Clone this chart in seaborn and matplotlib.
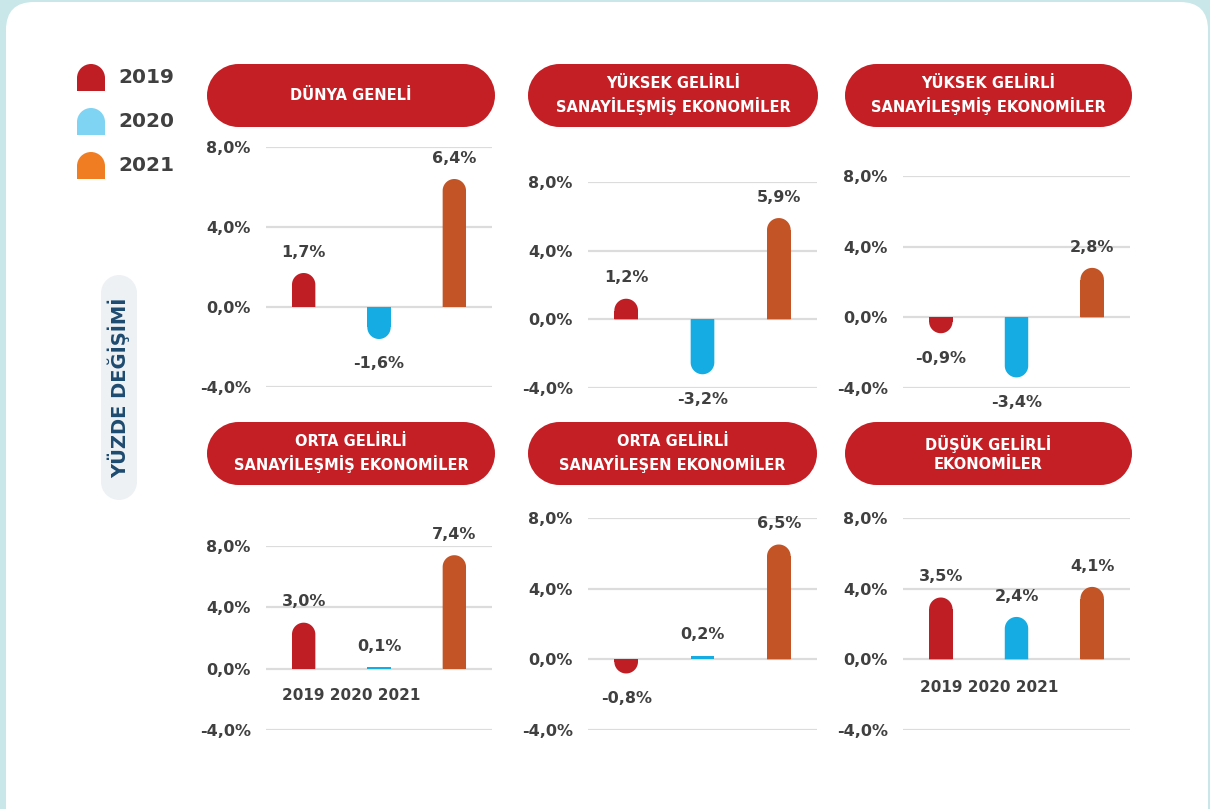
import numpy as np
import pandas as pd
import matplotlib.pyplot as plt
import seaborn as sns
from matplotlib.patches import FancyBboxPatch, Polygon, Wedge, Rectangle, Circle

sns.set_theme(style="white")
plt.rcParams['font.family'] = ['DejaVu Sans']

# ---- data ----
years = ["2019", "2020", "2021"]
titles = ["DÜNYA GENELİ",
          "YÜKSEK GELİRLİ\nSANAYİLEŞMİŞ EKONOMİLER",
          "YÜKSEK GELİRLİ\nSANAYİLEŞMİŞ EKONOMİLER",
          "ORTA GELİRLİ\nSANAYİLEŞMİŞ EKONOMİLER",
          "ORTA GELİRLİ\nSANAYİLEŞEN EKONOMİLER",
          "DÜŞÜK GELİRLİ\nEKONOMİLER"]
v2019 = [1.7, 1.2, -0.9, 3.0, -0.8, 3.5]
v2020 = [-1.6, -3.2, -3.4, 0.1, 0.2, 2.4]
v2021 = [6.4, 5.9, 2.8, 7.4, 6.5, 4.1]
yticks = [-4, 0, 4, 8]
ylabel = "YÜZDE DEĞİŞİMİ"
year_label_panels = [3, 5]

# ---- styling / layout (pixels) ----
W, H = 1210, 809
bar_colors = {"2019": "#BE1E24", "2020": "#14ACE2", "2021": "#C25426"}
legend_colors = {"2019": "#BE1E24", "2020": "#7FD3F3", "2021": "#F07D22"}
header_red = "#C41F25"
txt = "#404040"

# axes boxes: left, right, y of 8%, y of -4%
boxes = [(266, 492, 147, 387), (588, 817, 182, 388), (903, 1130, 176, 388),
         (266, 492, 546, 730), (588, 817, 518, 730), (903, 1130, 518, 730)]
headers = [(207, 495, 64, 127), (528, 818, 64, 127), (845, 1132, 64, 127),
           (207, 495, 422, 485), (528, 817, 422, 485), (845, 1132, 422, 485)]
year_label_pos = {3: (351, 695), 5: (989, 687)}

fig = plt.figure(figsize=(12.1, 8.09), dpi=100, facecolor='#C9E7E8')

# background overlay in pixel coordinates
bg = fig.add_axes([0, 0, 1, 1])
bg.set_xlim(0, W)
bg.set_ylim(0, H)
bg.axis('off')
bg.add_patch(FancyBboxPatch((6, -60), 1202, H - 2 + 60,
                            boxstyle="round,pad=0,rounding_size=28",
                            fc='white', ec='none'))


def pill(x0, x1, ytop, ybot, color):
    # rectangle with semicircular ends
    w, h = x1 - x0, ybot - ytop
    yb = H - ybot
    if w >= h:
        r = h / 2
        bg.add_patch(Rectangle((x0 + r, yb), w - 2 * r, h, fc=color, ec='none'))
        bg.add_patch(Circle((x0 + r, yb + r), r, fc=color, ec='none'))
        bg.add_patch(Circle((x1 - r, yb + r), r, fc=color, ec='none'))
    else:
        r = w / 2
        bg.add_patch(Rectangle((x0, yb + r), w, h - 2 * r, fc=color, ec='none'))
        bg.add_patch(Circle((x0 + r, yb + r), r, fc=color, ec='none'))
        bg.add_patch(Circle((x0 + r, yb + h - r), r, fc=color, ec='none'))


# y label pill
pill(101, 137, 275, 500, '#EEF1F4')
bg.text(119, H - 388, ylabel, rotation=90, ha='center', va='center',
        fontsize=14, fontweight='bold', color='#1D4B6F')

# legend with rounded-top markers
for i, yr in enumerate(years):
    ytop = 64 + i * 44
    w, h = 28, 27
    r = w / 2
    bg.add_patch(Rectangle((77, H - ytop - h), w, h - r + 0.5, fc=legend_colors[yr], ec='none'))
    bg.add_patch(Wedge((77 + r, H - ytop - r), r, 0, 180, fc=legend_colors[yr], ec='none'))
    bg.text(118, H - ytop - h / 2, yr, ha='left', va='center',
            fontsize=14.5, fontweight='bold', color=txt)

# headers
for (x0, x1, yt, yb), t in zip(headers, titles):
    pill(x0, x1, yt, yb, header_red)
    bg.text((x0 + x1) / 2, H - (yt + yb) / 2, t, ha='center', va='center',
            fontsize=10.5, fontweight='bold', color='white', linespacing=1.35)


def fmt(v):
    return f"{v:.1f}%".replace('.', ',')


for k, (l, r_, y8, ym4) in enumerate(boxes):
    ax = fig.add_axes([l / W, 1 - ym4 / H, (r_ - l) / W, (ym4 - y8) / H])
    ax.patch.set_alpha(0)
    vals = [v2019[k], v2020[k], v2021[k]]
    df = pd.DataFrame({"year": years, "value": vals})
    sns.barplot(data=df, x="year", y="value", hue="year", order=years,
                palette=bar_colors, width=0.31, saturation=1, linewidth=0,
                legend=False, ax=ax)
    ax.set_xlim(-0.5, 2.5)
    ax.set_ylim(-4, 8)
    ax.set_yticks(yticks)
    ax.set_yticklabels([fmt(t) for t in yticks], fontsize=11.5,
                       fontweight='bold', color=txt)
    ax.tick_params(axis='y', length=0, pad=11)
    ax.set_xticks([])
    ax.set_xlabel('')
    ax.set_ylabel('')
    for s in ax.spines.values():
        s.set_visible(False)
    ax.grid(axis='y', color='#DCDCDC', lw=1.6)
    ax.set_axisbelow(True)

    # round bar ends: cover each bar with a shape ending in a half ellipse
    sx = (r_ - l) / 3.0
    sy = (ym4 - y8) / 12.0
    for p in list(ax.patches):
        x0, w, h = p.get_x(), p.get_width(), p.get_height()
        ry = (w * sx / 2) / sy
        if abs(h) > ry:
            sgn = np.sign(h)
            base = h - sgn * ry
            p.set_height(base)
            t = np.linspace(0, np.pi, 40)
            arc = np.column_stack([x0 + w / 2 + (w / 2) * np.cos(t),
                                   base + sgn * ry * np.sin(t)])
            pts = np.vstack([[x0 + w, 0], arc, [x0, 0]])
            ax.add_patch(Polygon(pts, closed=True, fc=p.get_facecolor(),
                                 ec='none', zorder=p.get_zorder()))

    for i, v in enumerate(vals):
        ax.annotate(fmt(v), (i, v), xytext=(0, 15 if v >= 0 else -18),
                    textcoords='offset points', ha='center', va='center',
                    fontsize=11.5, fontweight='bold', color=txt,
                    annotation_clip=False)

    if k in year_label_panels:
        xx, yy = year_label_pos[k]
        bg.text(xx, H - yy, " ".join(years), ha='center', va='center',
                fontsize=11, fontweight='bold', color=txt)

fig.savefig('out.png', dpi=100, facecolor=fig.get_facecolor())
